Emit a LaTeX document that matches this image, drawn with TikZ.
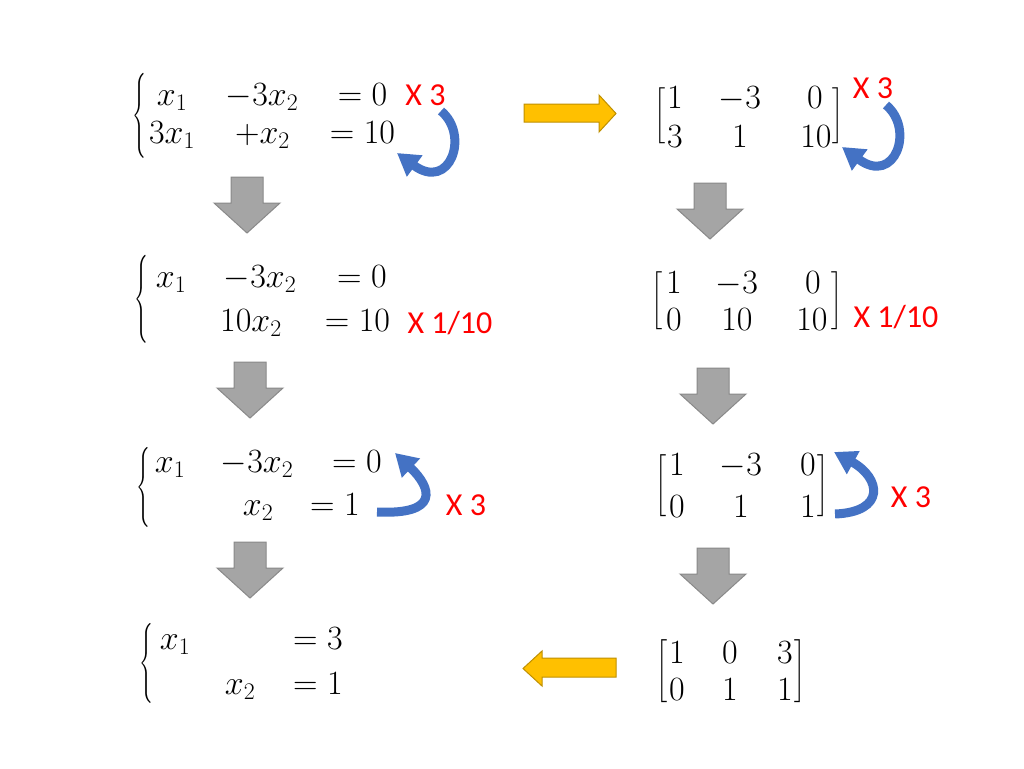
\RequirePackage{fix-cm}
\documentclass[tikz,border=0pt]{standalone}
\usepackage{fontspec}
\usepackage{graphicx}
\usetikzlibrary{arrows.meta}
\newfontfamily\calib{Carlito}
\definecolor{gfill}{RGB}{165,165,165}
\definecolor{gline}{RGB}{137,137,137}
\definecolor{yfill}{RGB}{255,192,0}
\definecolor{yline}{RGB}{191,144,0}
\definecolor{barc}{RGB}{68,114,196}
\definecolor{xred}{RGB}{255,0,0}
\newcommand{\mybrace}[1]{\resizebox*{14pt}{#1}{$\Biggl\{$}}
\newcommand{\mylbrack}[1]{\resizebox*{11pt}{#1}{$\Biggl[$}}
\newcommand{\myrbrack}[1]{\resizebox*{11pt}{#1}{$\Biggr]$}}
\begin{document}
\begin{tikzpicture}[x=1pt,y=-1pt,
 term/.style={inner sep=0pt, anchor=base, font=\fontsize{34}{40}\selectfont},
 lbl/.style={inner sep=0pt, anchor=base, text=xred, font=\calib\fontsize{32}{38}\selectfont},
 delim/.style={inner sep=0pt, anchor=center},
 grayarr/.style={fill=gfill, draw=gline, line width=1pt},
 yelarr/.style={fill=yfill, draw=yline, line width=1pt},
 bluearc/.style={draw=barc, line width=9pt, -{Triangle[length=22pt,width=25pt]}},
 downarr/.pic={\path[grayarr] (-16,0)--(16,0)--(16,26)--(33,26)--(0,56)--(-33,26)--(-16,26)--cycle;}
]
\fill[white] (0,0) rectangle (1024,768);

% ---------- system 1
\node[delim] (b1) at (139.5,115.5) {\mybrace{85pt}};
\node[term] (s1a) at (172,105) {$x_1$};
\node[term] (s1b) at (262,105) {$-3x_2$};
\node[term] (s1c) at (362.5,105) {$=0$};
\node[term] (s1d) at (172,143) {$3x_1$};
\node[term] (s1e) at (262.5,143) {$+x_2$};
\node[term] (s1f) at (362.5,143) {$=10$};
\node[lbl] (l1) at (425.5,105) {X 3};
\draw[bluearc] (441,111) .. controls (470,135) and (450,192) .. (397,153);

% ---------- matrix 1
\node[delim] (m1l) at (659.5,115.5) {\mylbrack{56pt}};
\node[delim] (m1r) at (837.5,115.5) {\myrbrack{56pt}};
\node[term] (m1a) at (675,108) {$1$};
\node[term] (m1b) at (740,108) {$-3$};
\node[term] (m1c) at (815,108) {$0$};
\node[term] (m1d) at (675,147) {$3$};
\node[term] (m1e) at (740,147) {$1$};
\node[term] (m1f) at (816,147) {$10$};
\node[lbl] (l2) at (873,98) {X 3};
\draw[bluearc] (886,105) .. controls (915,129) and (895,186) .. (842,147);

% yellow arrow right
\path[yelarr] (524,104)--(599,104)--(599,95)--(616,113.5)--(599,132)--(599,122)--(524,122)--cycle;

% gray arrows
\pic at (247,177) {downarr};
\pic at (710,183) {downarr};
\pic at (250,362) {downarr};
\pic at (713,368) {downarr};
\pic at (250,542) {downarr};
\pic at (713,548) {downarr};

% ---------- system 2
\node[delim] (b2) at (141,299) {\mybrace{88pt}};
\node[term] (s2a) at (171,287) {$x_1$};
\node[term] (s2b) at (260,287) {$-3x_2$};
\node[term] (s2c) at (362,287) {$=0$};
\node[term] (s2d) at (251,331) {$10x_2$};
\node[term] (s2e) at (357.5,331) {$=10$};
\node[lbl] (l3) at (450,333) {X 1/10};

% ---------- matrix 2
\node[delim] (m2l) at (657,301) {\mylbrack{58pt}};
\node[delim] (m2r) at (837,301) {\myrbrack{58pt}};
\node[term] (m2a) at (674,293) {$1$};
\node[term] (m2b) at (737,293) {$-3$};
\node[term] (m2c) at (813,293) {$0$};
\node[term] (m2d) at (674,330) {$0$};
\node[term] (m2e) at (737,330) {$10$};
\node[term] (m2f) at (812,330) {$10$};
\node[lbl] (l4) at (896,327) {X 1/10};

% ---------- system 3
\node[delim] (b3) at (143,487) {\mybrace{80pt}};
\node[term] (s3a) at (170,472) {$x_1$};
\node[term] (s3b) at (257,472) {$-3x_2$};
\node[term] (s3c) at (357,472) {$=0$};
\node[term] (s3d) at (258,515) {$x_2$};
\node[term] (s3e) at (335,515) {$=1$};
\node[lbl] (l5) at (466,515) {X 3};
\draw[bluearc] (377,512) .. controls (440,515) and (432,488) .. (395,453);

% ---------- matrix 3
\node[delim] (m3l) at (661,486) {\mylbrack{62pt}};
\node[delim] (m3r) at (823,486) {\myrbrack{62pt}};
\node[term] (m3a) at (677,475) {$1$};
\node[term] (m3b) at (741,475) {$-3$};
\node[term] (m3c) at (808,475) {$0$};
\node[term] (m3d) at (677,517) {$0$};
\node[term] (m3e) at (741,517) {$1$};
\node[term] (m3f) at (808,517) {$1$};
\node[lbl] (l6) at (911,507) {X 3};
\draw[bluearc] (835,514) .. controls (886,512) and (881,478) .. (834,452);

% ---------- system 4
\node[delim] (b4) at (146,663) {\mybrace{80pt}};
\node[term] (s4a) at (175,649) {$x_1$};
\node[term] (s4b) at (318,649) {$=3$};
\node[term] (s4c) at (240,694) {$x_2$};
\node[term] (s4d) at (318,694) {$=1$};

% ---------- matrix 4
\node[delim] (m4l) at (662,671) {\mylbrack{63pt}};
\node[delim] (m4r) at (800,671) {\myrbrack{63pt}};
\node[term] (m4a) at (677,663) {$1$};
\node[term] (m4b) at (730,663) {$0$};
\node[term] (m4c) at (785,663) {$3$};
\node[term] (m4d) at (677,700) {$0$};
\node[term] (m4e) at (730,700) {$1$};
\node[term] (m4f) at (785,700) {$1$};

% yellow arrow left
\path[yelarr] (616,658)--(542,658)--(542,651)--(523,668.5)--(542,686)--(542,677)--(616,677)--cycle;
\end{tikzpicture}
\end{document}
